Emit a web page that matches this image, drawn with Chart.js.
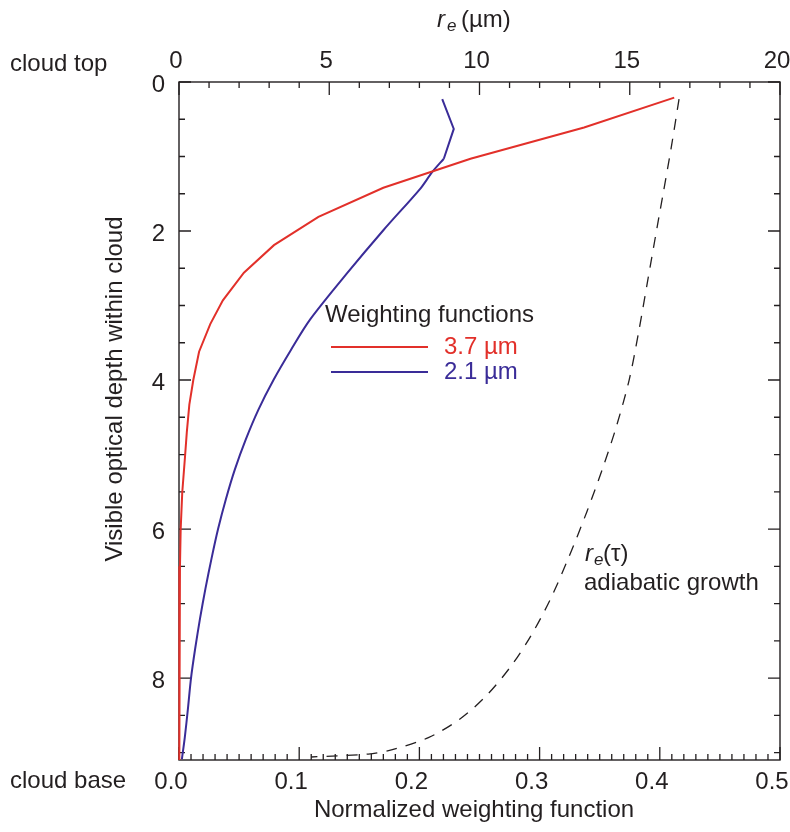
<!DOCTYPE html>
<html lang="en">
<head>
<meta charset="UTF-8">
<title>Weighting functions and adiabatic droplet radius</title>
<script src="https://cdn.jsdelivr.net/npm/chart.js@4.4.1/dist/chart.umd.min.js"></script>
<style>
  html, body { margin: 0; padding: 0; background: #fff; }
  #chart { display: block; }
</style>
</head>
<body>
<canvas id="chart" width="790" height="832"></canvas>
<script>
// 3.7 µm weighting function vs. visible optical depth
const tau37 = [0.21, 0.61, 1.03, 1.42, 1.81, 2.19, 2.56, 2.93, 3.25, 3.62, 4.0, 4.33, 4.7, 5.03, 5.51, 6.0, 6.5, 7.0, 8.0, 9.1];
const w37   = [0.412, 0.337, 0.2425, 0.170, 0.116, 0.079, 0.054, 0.0365, 0.026, 0.0167, 0.0119, 0.0086, 0.0065, 0.005, 0.0027, 0.0014, 0.0008, 0.0005, 0.0002, 0.0001];

// 2.1 µm weighting function (first three points form the sharp bend near the top)
const tau21 = [0.23, 0.63, 1.03, 1.21, 1.43, 1.99, 2.57, 3.19, 3.6, 4.0, 4.4, 4.8, 5.2, 5.6, 6.0, 6.4, 6.8, 7.2, 7.6, 8.0, 8.4, 8.8, 9.09];
const w21   = [0.219, 0.2286, 0.2203, 0.2106, 0.2008, 0.170, 0.1397, 0.109, 0.093, 0.0786, 0.066, 0.0555, 0.0465, 0.039, 0.0325, 0.027, 0.022, 0.0175, 0.0135, 0.0100, 0.0075, 0.0048, 0.0024];

// adiabatic effective radius profile r_e(tau), µm
const tauAd = [0.23, 0.88, 1.5, 1.95, 2.66, 3.37, 4.0, 4.63, 5.16, 5.76, 6.37, 6.95, 7.44, 7.84, 8.24, 8.55, 8.80, 8.96, 9.02, 9.06];
const reAd  = [16.64, 16.38, 16.11, 15.91, 15.6, 15.29, 14.98, 14.55, 14.12, 13.58, 12.98, 12.35, 11.7, 11.05, 10.22, 9.35, 8.3, 7.1, 6.3, 4.4];

const wTicks = [0, 0.1, 0.2, 0.3, 0.4, 0.5];
const reTicks = [0, 5, 10, 15, 20];
const tauTicks = [0, 2, 4, 6, 8];
const TAU_MAX = 9.1;

const RED = '#e2302a';
const BLUE = '#3a2c98';
const INK = '#231f20';
const FONT = '"Liberation Sans", Arial, Helvetica, sans-serif';

function pts(xs, ys) {
  return xs.map((x, i) => ({ x: x, y: ys[i] }));
}

// fixed box sizes so the plot frame lands where we want it
function fixSize(prop, size) {
  return function (scale) {
    scale[prop] = size;
    scale.paddingLeft = scale.paddingRight = scale.paddingTop = scale.paddingBottom = 0;
  };
}

function setTicks(vals) {
  return function (scale) { scale.ticks = vals.map(v => ({ value: v })); };
}

// frame with inward ticks on all four sides
const frame = {
  id: 'frame',
  beforeDatasetsDraw(chart) {
    const { ctx, chartArea: a, scales } = chart;
    const L = a.left, R = a.right, T = a.top, B = a.bottom;
    ctx.save();
    ctx.strokeStyle = INK;
    ctx.lineWidth = 1.4;
    ctx.strokeRect(L, T, R - L, B - T);
    ctx.lineWidth = 1.3;
    ctx.beginPath();
    // bottom: weighting function, minor every 0.01
    for (let i = 0; i <= 50; i++) {
      const px = scales.x.getPixelForValue(i / 100);
      const len = i % 10 === 0 ? 13 : 6;
      ctx.moveTo(px, B); ctx.lineTo(px, B - len);
    }
    // top: r_e, minor every 1 µm
    for (let i = 0; i <= 20; i++) {
      const px = scales.x2.getPixelForValue(i);
      const len = i % 5 === 0 ? 13 : 6;
      ctx.moveTo(px, T); ctx.lineTo(px, T + len);
    }
    // left and right: optical depth, minor every 0.5
    for (let i = 0; i <= 18; i++) {
      const py = scales.y.getPixelForValue(i / 2);
      const len = i % 4 === 0 ? 12 : 6;
      ctx.moveTo(L, py); ctx.lineTo(L + len, py);
      ctx.moveTo(R, py); ctx.lineTo(R - len, py);
    }
    ctx.stroke();
    ctx.restore();
  },
  afterDraw(chart) {
    const { ctx } = chart;
    ctx.save();
    ctx.fillStyle = INK;
    ctx.textBaseline = 'alphabetic';
    ctx.textAlign = 'left';
    ctx.font = '24px ' + FONT;
    ctx.fillText('cloud top', 10, 71);
    ctx.fillText('cloud base', 10, 788);

    // bottom axis title
    ctx.textAlign = 'center';
    ctx.fillText('Normalized weighting function', 474, 817);

    // top axis title: r_e (µm)
    ctx.textAlign = 'left';
    ctx.font = 'italic 24px ' + FONT;
    ctx.fillText('r', 437, 27);
    ctx.font = 'italic 17px ' + FONT;
    ctx.fillText('e', 447, 31);
    ctx.font = '24px ' + FONT;
    ctx.fillText('(µm)', 461, 27);

    // left axis title
    ctx.save();
    ctx.translate(122, 389);
    ctx.rotate(-Math.PI / 2);
    ctx.textAlign = 'center';
    ctx.fillText('Visible optical depth within cloud', 0, 0);
    ctx.restore();

    // legend
    ctx.textAlign = 'left';
    ctx.fillText('Weighting functions', 325, 322);
    ctx.lineWidth = 2;
    ctx.strokeStyle = RED;
    ctx.beginPath(); ctx.moveTo(331, 347); ctx.lineTo(428, 347); ctx.stroke();
    ctx.strokeStyle = BLUE;
    ctx.beginPath(); ctx.moveTo(331, 372); ctx.lineTo(428, 372); ctx.stroke();
    ctx.fillStyle = RED;
    ctx.fillText('3.7 µm', 444, 354);
    ctx.fillStyle = BLUE;
    ctx.fillText('2.1 µm', 444, 379);

    // annotation for the dashed profile
    ctx.fillStyle = INK;
    ctx.font = 'italic 24px ' + FONT;
    ctx.fillText('r', 585, 561);
    ctx.font = 'italic 17px ' + FONT;
    ctx.fillText('e', 594, 565);
    ctx.font = '24px ' + FONT;
    ctx.fillText('(τ)', 603, 561);
    ctx.fillText('adiabatic growth', 584, 590);
    ctx.restore();
  }
};

const tickFont = { family: FONT, size: 24 };
const blue = pts(w21, tau21);

new Chart(document.getElementById('chart'), {
  type: 'scatter',
  data: {
    datasets: [
      {
        label: '3.7 µm',
        data: pts(w37, tau37),
        xAxisID: 'x', yAxisID: 'y',
        showLine: true, borderColor: RED, borderWidth: 2,
        pointRadius: 0, clip: 4
      },
      {
        label: '2.1 µm (top)',
        data: blue.slice(0, 3),
        xAxisID: 'x', yAxisID: 'y',
        showLine: true, borderColor: BLUE, borderWidth: 2,
        pointRadius: 0, clip: 4
      },
      {
        label: '2.1 µm',
        data: blue.slice(2),
        xAxisID: 'x', yAxisID: 'y',
        showLine: true, borderColor: BLUE, borderWidth: 2,
        tension: 0.3, pointRadius: 0, clip: 4
      },
      {
        label: 'r_e adiabatic',
        data: pts(reAd, tauAd),
        xAxisID: 'x2', yAxisID: 'y',
        showLine: true, borderColor: INK, borderWidth: 1.3,
        borderDash: [11, 9], tension: 0.3, pointRadius: 0, clip: 4
      }
    ]
  },
  options: {
    responsive: false,
    animation: false,
    layout: { padding: { left: 0, right: 10, top: 0, bottom: 0 } },
    plugins: { legend: { display: false }, tooltip: { enabled: false } },
    scales: {
      x: {
        type: 'linear', position: 'bottom', min: 0, max: 0.5,
        grid: { display: false, drawTicks: false }, border: { display: false },
        afterBuildTicks: setTicks(wTicks),
        afterFit: fixSize('height', 72),
        ticks: {
          font: tickFont, color: INK, padding: 8, labelOffset: -8,
          maxRotation: 0, autoSkip: false,
          callback: v => v.toFixed(1)
        }
      },
      x2: {
        type: 'linear', position: 'top', min: 0, max: 20,
        grid: { display: false, drawTicks: false }, border: { display: false },
        afterBuildTicks: setTicks(reTicks),
        afterFit: fixSize('height', 82),
        ticks: {
          font: tickFont, color: INK, padding: 6, labelOffset: -3,
          maxRotation: 0, autoSkip: false
        }
      },
      y: {
        type: 'linear', position: 'left', reverse: true, min: 0, max: TAU_MAX,
        grid: { display: false, drawTicks: false }, border: { display: false },
        afterBuildTicks: setTicks(tauTicks),
        afterFit: fixSize('width', 179),
        ticks: {
          font: tickFont, color: INK, padding: 14, labelOffset: 3,
          autoSkip: false
        }
      }
    }
  },
  plugins: [frame]
});
</script>
</body>
</html>
